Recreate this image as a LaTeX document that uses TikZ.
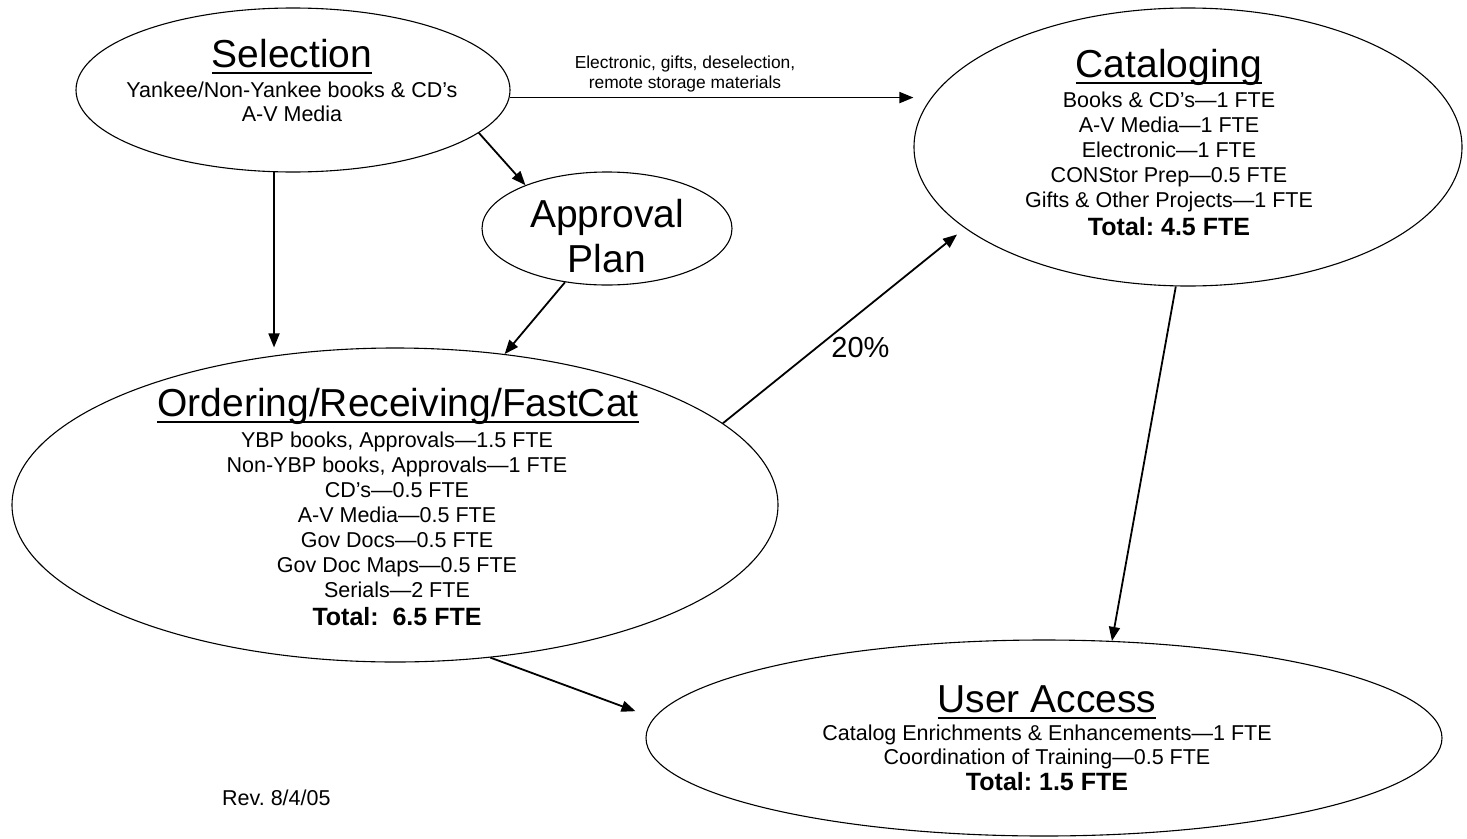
\documentclass[tikz,border=0pt]{standalone}
\usepackage{fontspec}
\setmainfont{Liberation Sans}
\frenchspacing
\usetikzlibrary{arrows.meta,shapes.geometric,calc}
\tikzset{
  blob/.style={
    ellipse,
    draw=black,
    line width=1.1pt,
    inner sep=0pt
  },
  body/.style={font=\fontsize{21.5}{25}\selectfont, inner sep=0pt, anchor=base},
  heading/.style={font=\fontsize{39}{45}\selectfont, inner sep=0pt, anchor=base},
  total/.style={font=\fontsize{25}{30}\selectfont\bfseries, inner sep=0pt, anchor=base},
  note/.style={font=\fontsize{17.4}{20}\selectfont, align=center, inner sep=0pt},
  flow/.style={line width=1.8pt, -{Triangle[length=14pt,width=11pt]}}
}
\newcommand{\ulhead}[1]{%
  \setbox0=\hbox{#1}\rlap{\vrule width\wd0 height -4.5pt depth 7pt}\box0}

\begin{document}
\begin{tikzpicture}[x=1pt,y=-1pt]
  \useasboundingbox (0,0) rectangle (1467,838);
  \node[blob, minimum width=434pt, minimum height=164pt] (sel) at (293,90) {};
  \node[blob, minimum width=250pt, minimum height=113pt] (appr) at (607,228.5) {};
  \node[blob, minimum width=766pt, minimum height=314pt] (ord) at (395,505) {};
  \node[blob, minimum width=548pt, minimum height=278pt] (cat) at (1188,147) {};
  \node[blob, minimum width=796pt, minimum height=196pt] (ua) at (1044,738) {};

  \node[heading] (sel-title) at (292,67) {\ulhead{Selection}};
  \foreach \line [count=\i] in {{Yankee/Non-Yankee books \& CD's}, {A-V Media}}
    \node[body] (sel-\i) at (292,73+24*\i) {\line};

  \node[heading] (appr-1) at (607,227) {Approval};
  \node[heading] (appr-2) at (607,272) {Plan};

  \node[heading] (cat-title) at (1169,77) {\ulhead{Cataloging}};
  \foreach \line [count=\i] in {{Books \& CD's---1 FTE}, {A-V Media---1 FTE},
      {Electronic---1 FTE}, {CONStor Prep---0.5 FTE},
      {Gifts \& Other Projects---1 FTE}}
    \node[body] (cat-\i) at (1169,82+25*\i) {\line};
  \node[total] (cat-total) at (1169,235) {Total: 4.5 FTE};

  \node[heading] (ord-title) at (398,416) {\ulhead{Ordering/Receiving/FastCat}};
  \foreach \line [count=\i] in {{YBP books, Approvals---1.5 FTE},
      {Non-YBP books, Approvals---1 FTE}, {CD's---0.5 FTE},
      {A-V Media---0.5 FTE}, {Gov Docs---0.5 FTE},
      {Gov Doc Maps---0.5 FTE}, {Serials---2 FTE}}
    \node[body] (ord-\i) at (397,422+25*\i) {\line};
  \node[total] (ord-total) at (397,625) {Total:\ \ 6.5 FTE};

  \node[heading] (ua-title) at (1047,712) {\ulhead{User Access}};
  \foreach \line [count=\i] in {{Catalog Enrichments \& Enhancements---1 FTE},
      {Coordination of Training---0.5 FTE}}
    \node[body] (ua-\i) at (1047,716+24*\i) {\line};
  \node[total] (ua-total) at (1047,790) {Total: 1.5 FTE};

  \node[body, anchor=base west] (rev) at (222,805) {Rev. 8/4/05};

  \node[note, anchor=south] (via) at (685,92.7)
    {Electronic, gifts, deselection,\\remote storage materials};

  \draw[flow] (sel.-2) -- (sel.-2 -| cat.west);
  \draw[flow] (sel.-13) -- (appr.152);
  \draw[flow] (sel.-103) -- (sel.-103 |- ord.north);
  \draw[flow] (appr.-128) -- (ord.54);
  \draw[flow, shorten >=10pt] (ord.14) --
    node[pos=0.39, right=10pt, font=\fontsize{29}{34}\selectfont] (pct) {20\%} (cat.200);
  \draw[flow] (cat.-95) -- (ua.55);
  \draw[flow] (ord.-58) -- ([xshift=-25pt]ua.176);
\end{tikzpicture}
\end{document}
